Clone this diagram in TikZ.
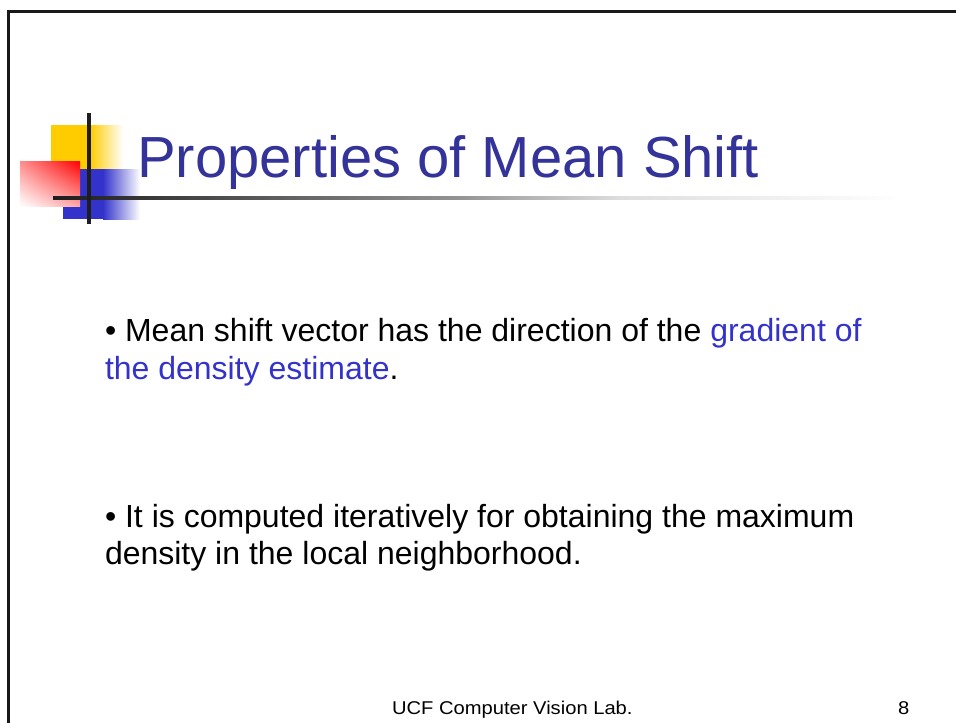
\documentclass[tikz,border=0pt]{standalone}
\usepackage{fontspec}
\setmainfont{Liberation Sans}
\usepackage{graphicx}
\usetikzlibrary{shadings}
\definecolor{titleblue}{HTML}{333399}
\definecolor{linkblue}{HTML}{3333CC}
\definecolor{sqyellow}{HTML}{FFCC00}
\definecolor{sqblue}{HTML}{3333CC}
\definecolor{sqred}{HTML}{FF0000}
\definecolor{barblack}{HTML}{1E1E1E}
\tikzset{
  txt/.style={anchor=base west, inner sep=0pt, outer sep=0pt},
  bodytxt/.style={txt, font=\fontsize{32}{38}\selectfont},
  foottxt/.style={txt, font=\fontsize{18.5}{22}\selectfont},
  frameline/.style={line width=3pt, black!90},
}
\begin{document}
\begin{tikzpicture}[x=1pt,y=-1pt]
\useasboundingbox (0,0) rectangle (956,723);
\fill[white] (0,0) rectangle (956,723);
% frame
\draw[frameline] (8,723) -- (8,11) -- (956,11);
% decoration squares
\fill[sqyellow] (51,125) rectangle (90,169);
\shade[left color=sqyellow, right color=white] (90,125) rectangle (123,169);
\fill[sqblue] (63,169) rectangle (103,219);
\shade[left color=sqblue, right color=white] (103,169) rectangle (140,219);
\shade[upper right=sqred, lower left=white, upper left=sqred!45, lower right=sqred!35] (20,161) rectangle (80,206);
% title rule with fade
\shade[left color=barblack, right color=black!80] (53,196.5) rectangle (130,199.5);
\shade[left color=black!80, right color=black!42] (130,196.5) rectangle (460,199.5);
\shade[left color=black!42, right color=black!13] (460,196.5) rectangle (620,199.5);
\shade[left color=black!13, right color=white] (620,196.5) rectangle (905,199.5);
% vertical bar
\fill[barblack] (87.2,113) rectangle (90.8,224);
% title
\node[txt, font=\fontsize{58}{66}\selectfont, text=titleblue] (title) at (137,177) {Properties of Mean Shift};
% bullets
\node[bodytxt] (b1a) at (105,341) {• Mean shift vector has the direction of the \textcolor{linkblue}{gradient of}};
\node[bodytxt] (b1b) at (105,379) {\textcolor{linkblue}{the density estimate}.};
\node[bodytxt] (b2a) at (105,527) {• It is computed iteratively for obtaining the maximum};
\node[bodytxt] (b2b) at (105,564) {density in the local neighborhood.};
% footer
\node[foottxt] (footer) at (392,714) {\scalebox{1.09}[1]{UCF Computer Vision Lab.}};
\node[foottxt] (pagenum) at (898,714) {\scalebox{1.09}[1]{8}};
\end{tikzpicture}
\end{document}
